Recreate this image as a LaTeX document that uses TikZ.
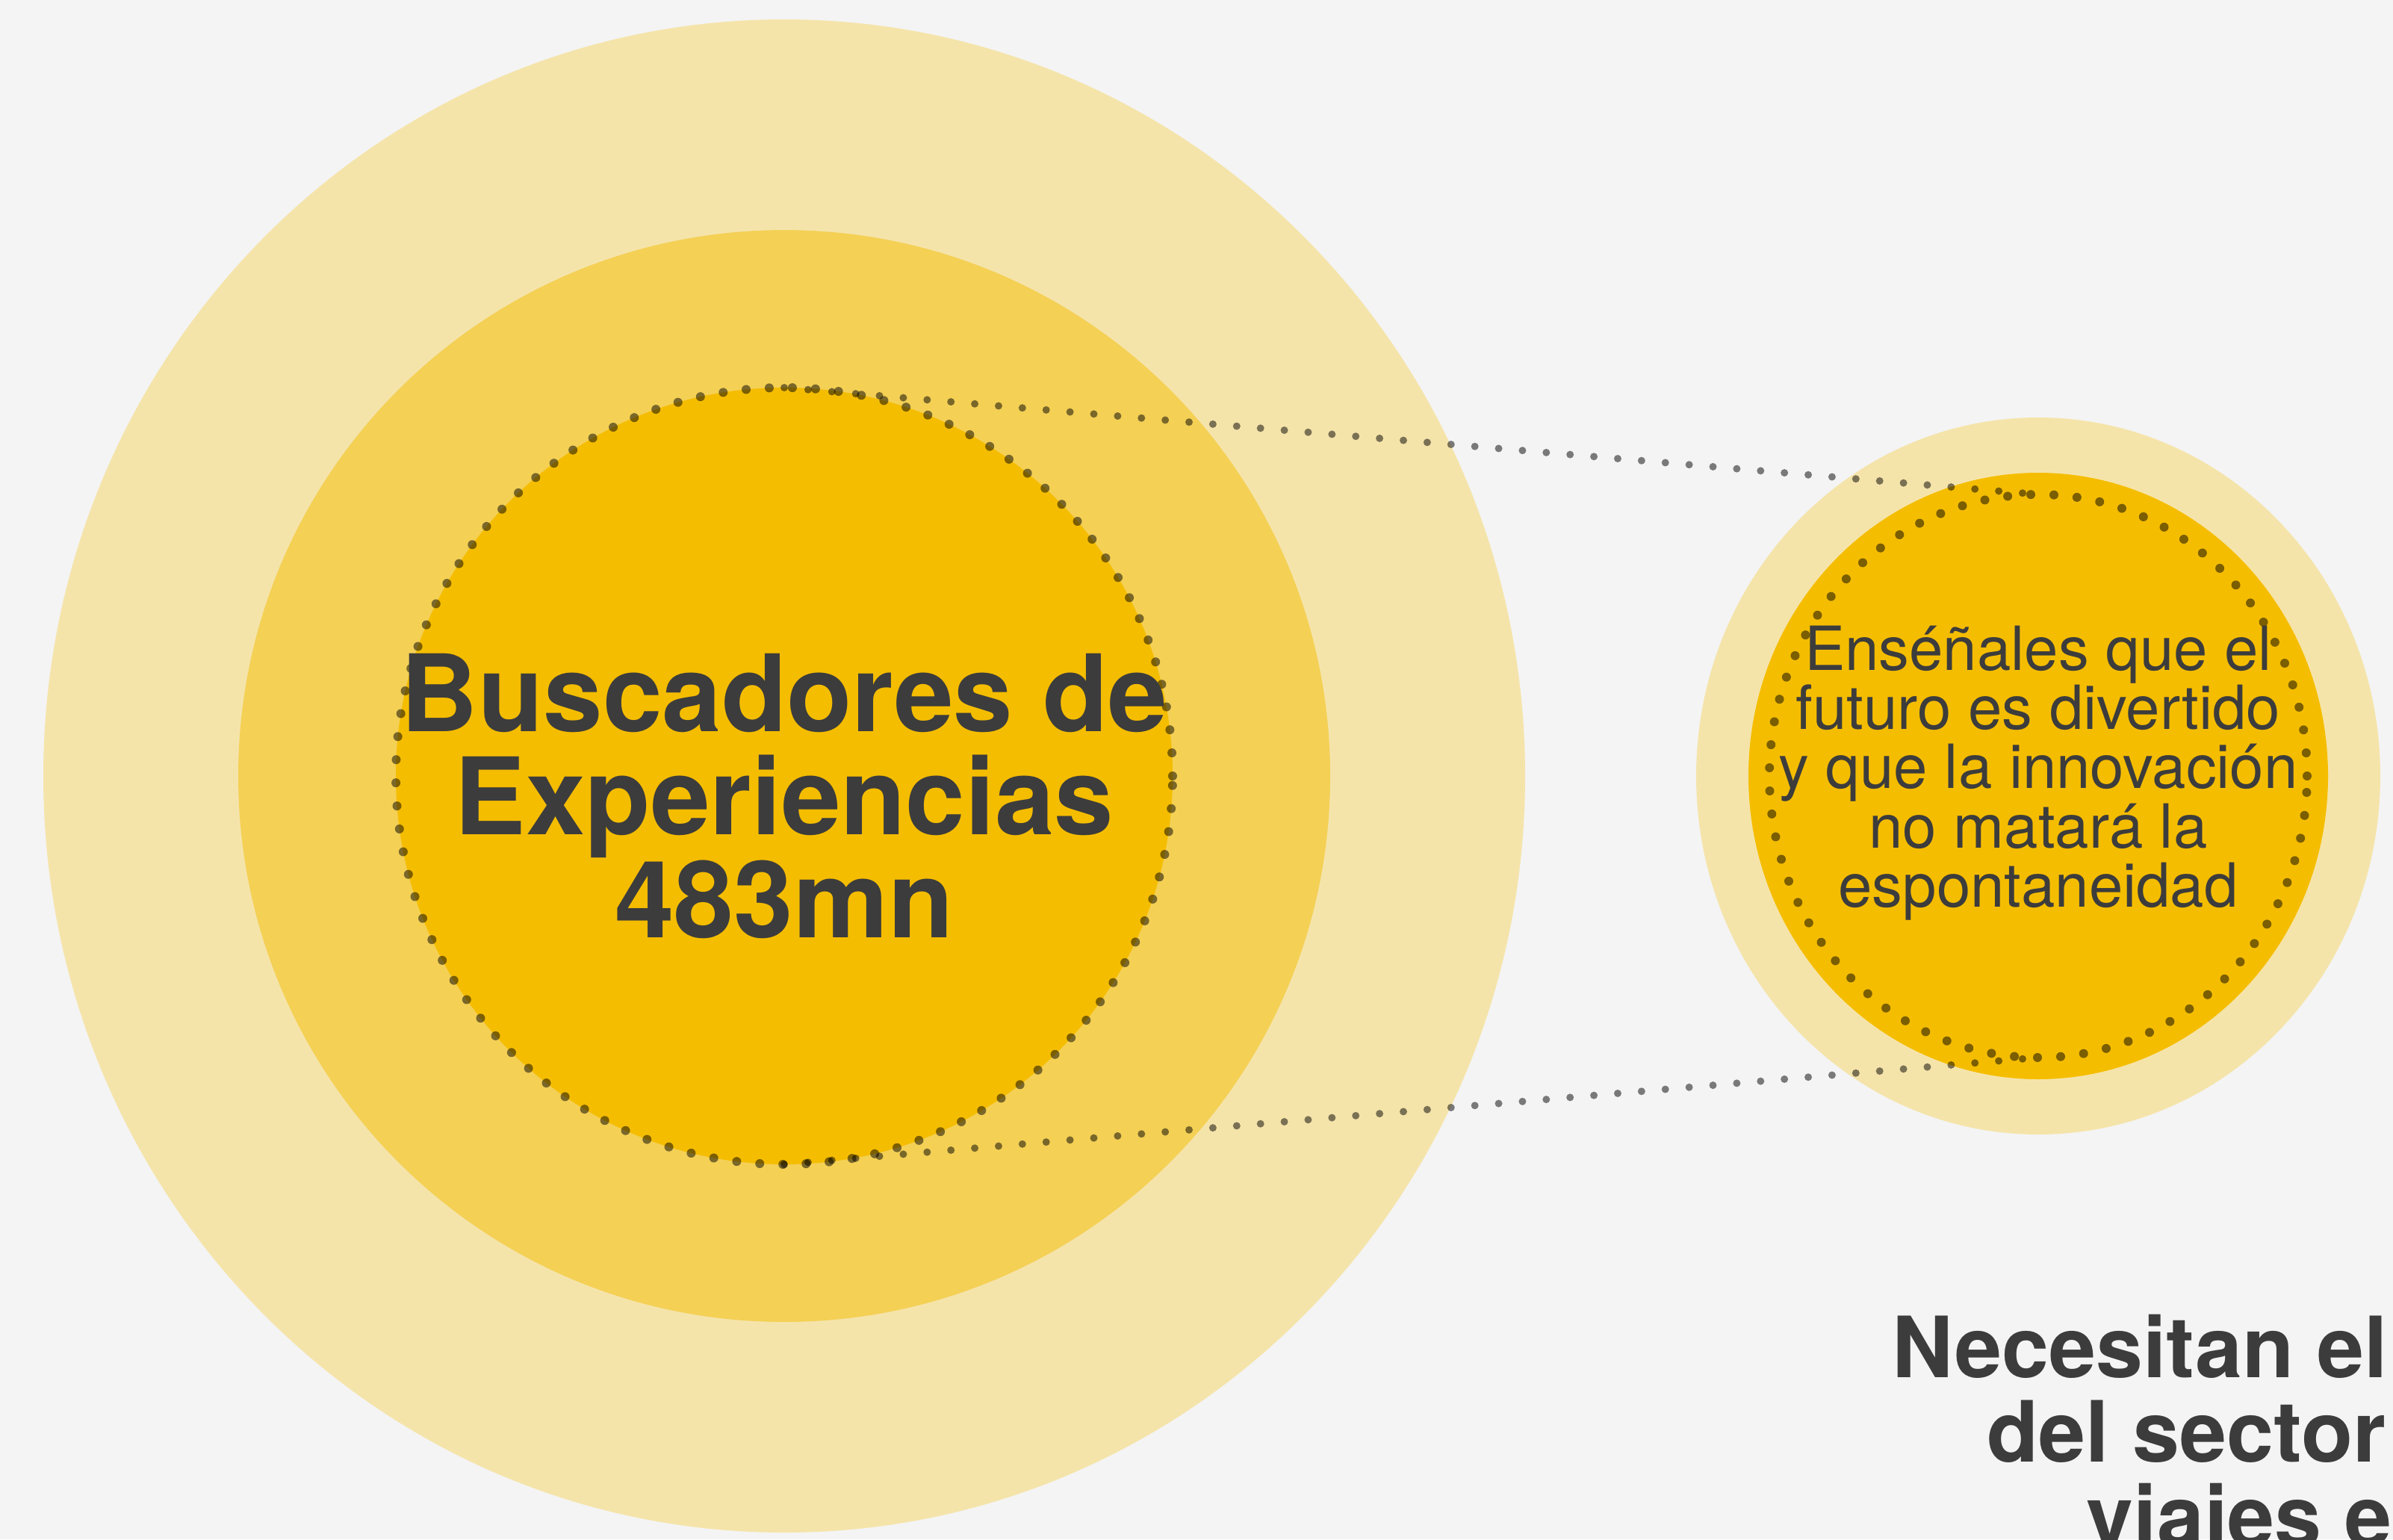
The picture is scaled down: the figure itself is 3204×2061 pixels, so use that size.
\documentclass[tikz,border=0pt]{standalone}
\usepackage{xcolor}
\usepackage{fontspec}
\setmainfont{TeX Gyre Heros}
\usepackage{tikz}
\usetikzlibrary{shapes.geometric}
\definecolor{bgGrey}{HTML}{F4F4F4}
\definecolor{paleGold}{HTML}{F5E4AA}
\definecolor{midGold}{HTML}{F4D055}
\definecolor{deepGold}{HTML}{F5BD00}
\definecolor{inkGrey}{HTML}{3C3C3C}

\begin{document}
\begin{tikzpicture}[x=0.1mm,y=-0.1mm,
  disc/.style={ellipse,inner sep=0pt,outer sep=0pt},
  dotring/.style={disc,line width=1.2mm,line cap=round,dash pattern=on 0pt off 3.1mm,draw=black,draw opacity=0.5},
  dotline/.style={line width=1mm,line cap=round,dash pattern=on 0pt off 3.2mm,draw=black,draw opacity=0.5},
  headtext/.style={text=inkGrey,align=center,font=\fontsize{40.7}{39.2}\selectfont\bfseries},
  bodytext/.style={text=inkGrey,align=center,font=\fontsize{23.2}{22.6}\selectfont},
  sidetext/.style={text=inkGrey,anchor=base west,inner sep=0pt,font=\fontsize{32.2}{32.2}\selectfont\bfseries}]
\useasboundingbox (0,0) rectangle (3204,2061);
\clip (0,0) rectangle (3204,2061);
\fill[bgGrey] (0,0) rectangle (3204,2061);
% left group
\node[disc,fill=paleGold,minimum width=198.4mm,minimum height=202.6mm] (expOuter) at (1050,1039) {};
\node[disc,fill=midGold,minimum size=146.2mm] (expMid) at (1050,1039) {};
\node[disc,fill=deepGold,minimum size=104mm] (expCore) at (1050,1039) {};
% right group
\node[disc,fill=paleGold,minimum width=91.6mm,minimum height=96mm] (funOuter) at (2729,1039) {};
\node[disc,fill=deepGold,minimum width=77.6mm,minimum height=81.2mm] (funCore) at (2729,1039) {};
% dotted rings and links
\node[dotring,minimum size=104mm] (expDots) at (1050,1039) {};
\node[dotring,minimum width=72mm,minimum height=75.4mm] (funDots) at (2729,1039) {};
\draw[dotline] (expDots.north) -- (funDots.north);
\draw[dotline] (expDots.south) -- (funDots.south);
% texts
\node[headtext] (expText) at (1050,1066) {Buscadores de\\Experiencias\\483mn};
\node[bodytext] (funText) at (2729,1035) {Enséñales que el\\futuro es divertido\\y que la innovación\\no matará la\\espontaneidad};
\node[sidetext] (need1) at (2533,1844) {Necesitan el};
\node[sidetext] (need2) at (2660,1957) {del sector};
\node[sidetext] (need3) at (2793,2070) {viajes e};
\end{tikzpicture}
\end{document}
